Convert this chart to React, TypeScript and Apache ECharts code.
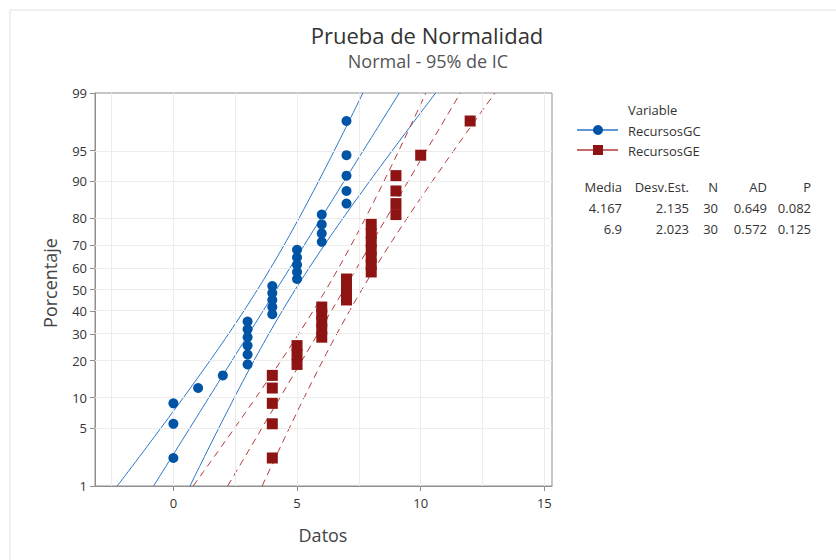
import React, { useEffect, useRef } from "react";
import * as echarts from "echarts";

// ---- Data ----
const recursosGC: number[] = [0, 0, 0, 1, 2, 3, 3, 3, 3, 3, 3, 4, 4, 4, 4, 4, 5, 5, 5, 5, 5, 6, 6, 6, 6, 7, 7, 7, 7, 7];
const recursosGE: number[] = [4, 4, 4, 4, 4, 5, 5, 5, 6, 6, 6, 6, 6, 7, 7, 7, 7, 8, 8, 8, 8, 8, 8, 8, 9, 9, 9, 9, 10, 12];
const seriesNames: string[] = ["RecursosGC", "RecursosGE"];
const media: number[] = [4.167, 6.9];
const desvEst: number[] = [2.135, 2.023];
const nObs: number[] = [30, 30];
const mediaLabels: string[] = ["4.167", "6.9"];
const desvLabels: string[] = ["2.135", "2.023"];
const adLabels: string[] = ["0.649", "0.572"];
const pLabels: string[] = ["0.082", "0.125"];
const percentTicks: number[] = [1, 5, 10, 20, 30, 40, 50, 60, 70, 80, 90, 95, 99];
const xTicks: number[] = [0, 5, 10, 15];
const xGrid: number[] = [-2.5, 0, 2.5, 5, 7.5, 10, 12.5, 15];

// inverse standard normal CDF (Acklam)
function invNorm(p: number): number {
  const a = [-3.969683028665376e1, 2.209460984245205e2, -2.759285104469687e2, 1.38357751867269e2, -3.066479806614716e1, 2.506628277459239];
  const b = [-5.447609879822406e1, 1.615858368580409e2, -1.556989798598866e2, 6.680131188771972e1, -1.328068155288572e1];
  const c = [-7.784894002430293e-3, -3.223964580411365e-1, -2.400758277161838, -2.549671010228810, 4.374664141464968, 2.938163982698783];
  const d = [7.784695709041462e-3, 3.224671290700398e-1, 2.445134137142996, 3.754408661907416];
  const pl = 0.02425;
  if (p < pl) {
    const q = Math.sqrt(-2 * Math.log(p));
    return (((((c[0] * q + c[1]) * q + c[2]) * q + c[3]) * q + c[4]) * q + c[5]) / ((((d[0] * q + d[1]) * q + d[2]) * q + d[3]) * q + 1);
  }
  if (p <= 1 - pl) {
    const q = p - 0.5;
    const r = q * q;
    return ((((((a[0] * r + a[1]) * r + a[2]) * r + a[3]) * r + a[4]) * r + a[5]) * q) / (((((b[0] * r + b[1]) * r + b[2]) * r + b[3]) * r + b[4]) * r + 1);
  }
  const q = Math.sqrt(-2 * Math.log(1 - p));
  return -(((((c[0] * q + c[1]) * q + c[2]) * q + c[3]) * q + c[4]) * q + c[5]) / ((((d[0] * q + d[1]) * q + d[2]) * q + d[3]) * q + 1);
}

const Z_MIN = invNorm(0.01);
const Z_MAX = invNorm(0.99);
const tickZ = percentTicks.map((p) => invNorm(p / 100));

function probPoints(vals: number[]): number[][] {
  const s = [...vals].sort((a, b) => a - b);
  const n = s.length;
  return s.map((v, i) => [v, invNorm((i + 1 - 0.3) / (n + 0.4))]);
}

function fitLines(m: number, sd: number, n: number) {
  const center: number[][] = [];
  const lo: number[][] = [];
  const hi: number[][] = [];
  const steps = 80;
  for (let k = 0; k <= steps; k++) {
    const z = Z_MIN + ((Z_MAX - Z_MIN) * k) / steps;
    const x = m + z * sd;
    const se = sd * Math.sqrt(1 / n + (z * z) / (2 * n));
    center.push([x, z]);
    lo.push([x - 1.959964 * se, z]);
    hi.push([x + 1.959964 * se, z]);
  }
  return { center, lo, hi };
}

const BLUE = "#0054A6";
const BLUE_LINE = "#2E75C8";
const RED = "#8E1414";
const RED_LINE = "#B23A3A";
const AXIS = "#8f8f8f";
const FONT = "'Open Sans', 'Noto Sans', sans-serif";

export default function App() {
  const ref = useRef<HTMLDivElement>(null);
  useEffect(() => {
    document.body.style.margin = "0";
    if (!ref.current) return;
    const chart = echarts.init(ref.current, undefined, { renderer: "svg" });
    const gc = fitLines(media[0], desvEst[0], nObs[0]);
    const ge = fitLines(media[1], desvEst[1], nObs[1]);

    const lineS = (data: number[][], color: string, dashed: boolean) => ({
      type: "line",
      data,
      showSymbol: false,
      symbol: "none",
      silent: true,
      smooth: false,
      clip: true,
      lineStyle: { color, width: 1, type: dashed ? [7, 5] : "solid" },
      z: 3,
    });

    const tableX = [622, 689, 718, 767, 811];
    const headers = ["Media", "Desv.Est.", "N", "AD", "P"];
    const tableTexts: any[] = [];
    headers.forEach((h, i) =>
      tableTexts.push({ type: "text", x: tableX[i], y: 187, style: { text: h, fill: "#333", font: `13px ${FONT}`, textAlign: "right", textVerticalAlign: "middle" } })
    );
    [0, 1].forEach((r) => {
      const row = [mediaLabels[r], desvLabels[r], String(nObs[r]), adLabels[r], pLabels[r]];
      row.forEach((t, i) =>
        tableTexts.push({ type: "text", x: tableX[i], y: 208 + r * 21, style: { text: t, fill: "#333", font: `13px ${FONT}`, textAlign: "right", textVerticalAlign: "middle" } })
      );
    });

    const option: any = {
      animation: false,
      backgroundColor: "#ffffff",
      grid: { left: 95, top: 93, right: 284, bottom: 74, show: true, borderColor: AXIS, borderWidth: 1, backgroundColor: "transparent" },
      xAxis: {
        type: "value",
        min: -3.17,
        max: 15.31,
        axisLine: { show: true, onZero: false, lineStyle: { color: AXIS } },
        axisTick: { show: true, length: 5, lineStyle: { color: AXIS }, customValues: xTicks },
        axisLabel: { customValues: xTicks, color: "#333", fontSize: 13, fontFamily: FONT, margin: 10 },
        splitLine: { show: false },
      },
      yAxis: {
        type: "value",
        min: Z_MIN,
        max: Z_MAX,
        axisLine: { show: true, onZero: false, lineStyle: { color: AXIS } },
        axisTick: { show: true, length: 5, lineStyle: { color: AXIS }, customValues: tickZ },
        axisLabel: {
          customValues: tickZ,
          color: "#333",
          fontSize: 13,
          fontFamily: FONT,
          margin: 8,
          formatter: (v: number) => {
            let best = 0;
            tickZ.forEach((z, i) => {
              if (Math.abs(z - v) < Math.abs(tickZ[best] - v)) best = i;
            });
            return String(percentTicks[best]);
          },
        },
        splitLine: { show: false },
      },
      series: [
        {
          type: "line",
          data: [],
          silent: true,
          z: 1,
          markLine: {
            silent: true,
            symbol: ["none", "none"],
            label: { show: false },
            animation: false,
            lineStyle: { color: "#ececec", width: 1, type: "solid" },
            data: [
              ...xGrid.map((v) => ({ xAxis: v })),
              ...tickZ.slice(1, -1).map((z) => ({ yAxis: z })),
            ],
          },
        },
        lineS(gc.lo, BLUE_LINE, false),
        lineS(gc.center, BLUE_LINE, false),
        lineS(gc.hi, BLUE_LINE, false),
        lineS(ge.lo, RED_LINE, true),
        lineS(ge.center, RED_LINE, true),
        lineS(ge.hi, RED_LINE, true),
        {
          name: seriesNames[0],
          type: "scatter",
          data: probPoints(recursosGC),
          symbol: "circle",
          symbolSize: 10,
          itemStyle: { color: BLUE, opacity: 1 },
          z: 5,
        },
        {
          name: seriesNames[1],
          type: "scatter",
          data: probPoints(recursosGE),
          symbol: "rect",
          symbolSize: 11,
          itemStyle: { color: RED, opacity: 1 },
          z: 5,
        },
      ],
      graphic: [
        { type: "rect", shape: { x: 10, y: 10, width: 900, height: 700 }, style: { fill: "none", stroke: "#e2e2e2", lineWidth: 1 }, silent: true },
        { type: "text", x: 427, y: 35, style: { text: "Prueba de Normalidad", fill: "#333", font: `22px ${FONT}`, textAlign: "center", textVerticalAlign: "middle" } },
        { type: "text", x: 428, y: 61, style: { text: "Normal - 95% de IC", fill: "#555", font: `18px ${FONT}`, textAlign: "center", textVerticalAlign: "middle" } },
        { type: "text", x: 323, y: 535, style: { text: "Datos", fill: "#444", font: `18px ${FONT}`, textAlign: "center", textVerticalAlign: "middle" } },
        { type: "text", x: 50, y: 283, rotation: Math.PI / 2, style: { text: "Porcentaje", fill: "#444", font: `18px ${FONT}`, textAlign: "center", textVerticalAlign: "middle" } },
        { type: "text", x: 628, y: 110, style: { text: "Variable", fill: "#333", font: `13px ${FONT}`, textAlign: "left", textVerticalAlign: "middle" } },
        { type: "line", shape: { x1: 577, y1: 130, x2: 618, y2: 130 }, style: { stroke: BLUE_LINE, lineWidth: 1.5 } },
        { type: "circle", shape: { cx: 598, cy: 130, r: 5 }, style: { fill: BLUE } },
        { type: "text", x: 628, y: 131, style: { text: seriesNames[0], fill: "#333", font: `13px ${FONT}`, textAlign: "left", textVerticalAlign: "middle" } },
        { type: "line", shape: { x1: 577, y1: 150, x2: 618, y2: 150 }, style: { stroke: RED_LINE, lineWidth: 1.5 } },
        { type: "rect", shape: { x: 593, y: 145, width: 10, height: 10 }, style: { fill: RED } },
        { type: "text", x: 628, y: 151, style: { text: seriesNames[1], fill: "#333", font: `13px ${FONT}`, textAlign: "left", textVerticalAlign: "middle" } },
        ...tableTexts,
      ],
    };
    chart.setOption(option);
    return () => chart.dispose();
  }, []);
  return <div ref={ref} style={{ width: 836, height: 560 }} />;
}
